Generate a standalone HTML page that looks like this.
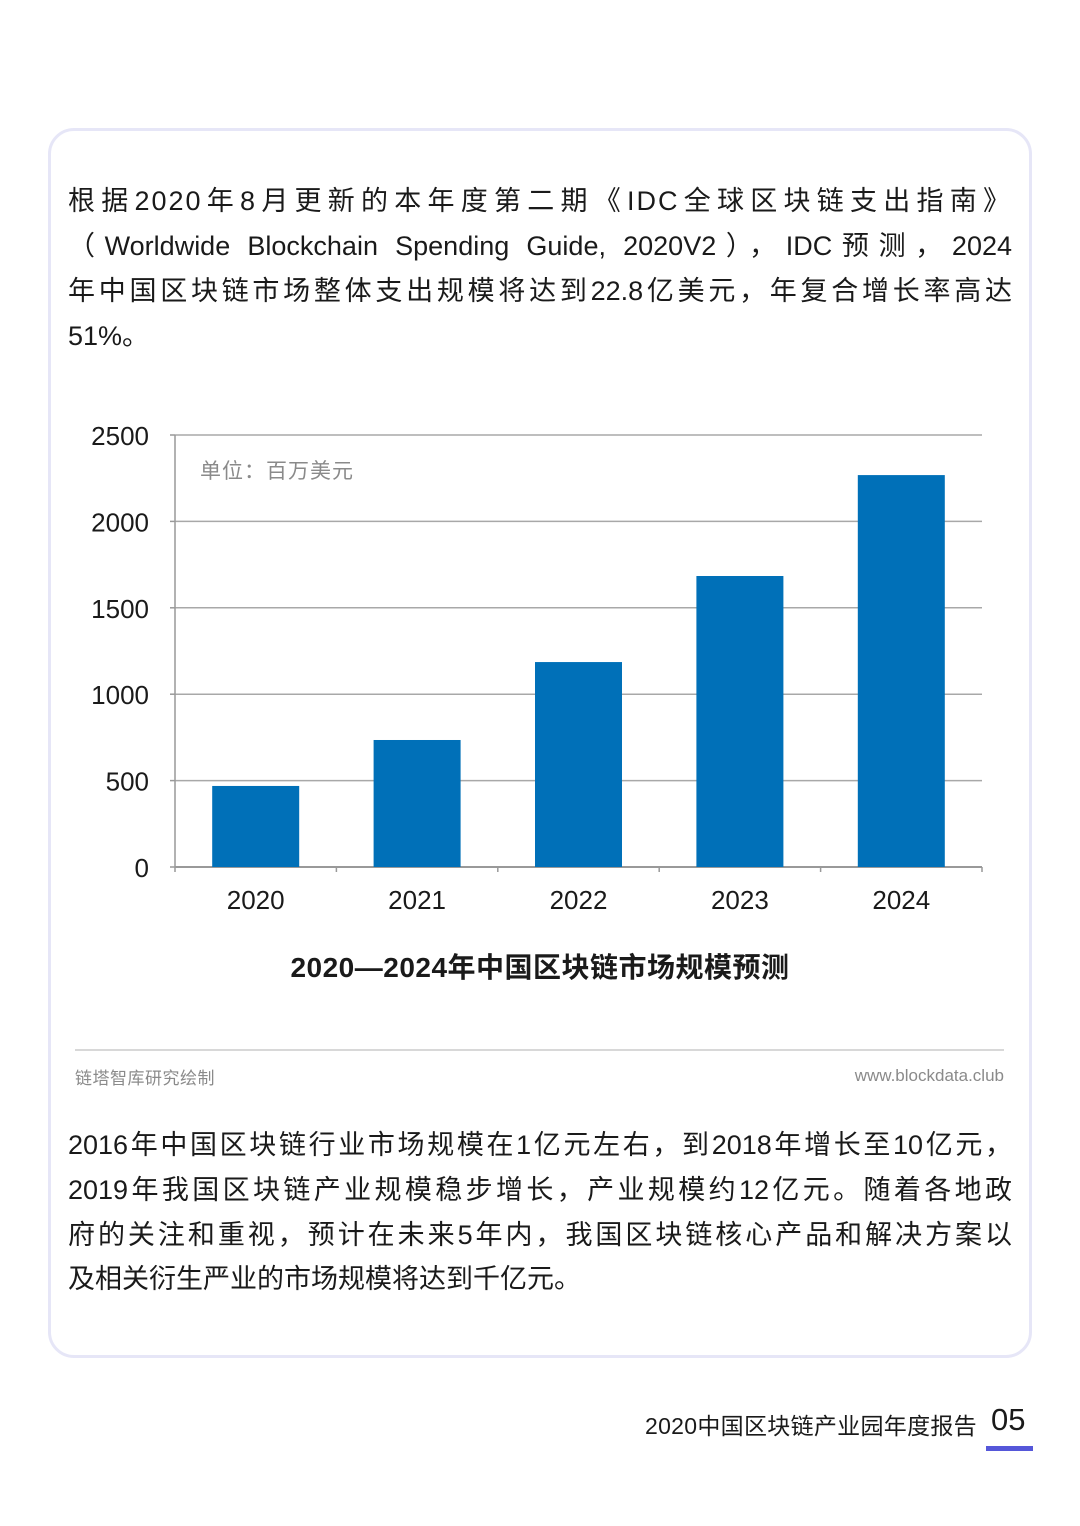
<!DOCTYPE html>
<html><head><meta charset="utf-8"><style>
body{margin:0;width:1080px;height:1526px;background:#fff;position:relative;font-family:"Liberation Sans","Noto Sans CJK SC",sans-serif;color:#1a1a1a;overflow:hidden}
.card{position:absolute;left:48px;top:128px;width:978px;height:1224px;border:3px solid #e6e6f7;border-radius:26px}
.ln{position:absolute;left:68px;width:944px;font-size:27px;line-height:34px;text-align:justify;text-align-last:justify;white-space:nowrap}
.ln.l{text-align-last:left}
</style></head><body>
<div class="card"></div>
<div>
<div class="ln" style="top:184px;letter-spacing:2px">根据2020年8月更新的本年度第二期《IDC全球区块链支出指南》</div>
<div class="ln" style="top:229px">（Worldwide Blockchain Spending Guide, 2020V2），IDC预测，2024</div>
<div class="ln" style="top:274px">年中国区块链市场整体支出规模将达到22.8亿美元，年复合增长率高达</div>
<div class="ln l" style="top:319px">51%。</div>
</div>
<svg id="chart" style="position:absolute;left:0;top:400px" width="1080" height="600"></svg>
<div style="position:absolute;left:75px;top:1049px;width:929px;height:2px;background:#d8d8d8"></div>
<div style="position:absolute;left:75px;top:1064px;font-size:17px;color:#8a8a8a;letter-spacing:0.5px">链塔智库研究绘制</div>
<div style="position:absolute;right:76px;top:1066px;font-size:17px;color:#8a8a8a">www.blockdata.club</div>
<div>
<div class="ln" style="top:1128px">2016年中国区块链行业市场规模在1亿元左右，到2018年增长至10亿元，</div>
<div class="ln" style="top:1173px">2019年我国区块链产业规模稳步增长，产业规模约12亿元。随着各地政</div>
<div class="ln" style="top:1218px">府的关注和重视，预计在未来5年内，我国区块链核心产品和解决方案以</div>
<div class="ln l" style="top:1262px">及相关衍生严业的市场规模将达到千亿元。</div>
</div>
<div style="position:absolute;left:645px;top:1407px;font-size:23px;letter-spacing:0.3px">2020中国区块链产业园年度报告</div>
<div style="position:absolute;left:991px;top:1402px;font-size:31px">05</div>
<div style="position:absolute;left:986px;top:1446px;width:47px;height:5px;background:#5557d9"></div>
<script>
const categories=["2020","2021","2022","2023","2024"];
const values=[469,735,1186,1684,2268];
const yTicks=[0,500,1000,1500,2000,2500];
const svg=document.getElementById('chart');
const NS='http://www.w3.org/2000/svg';
const x0=175,x1=982,yTop=35,yBot=467,yMax=2500;
const y=v=>yBot-(v/yMax)*(yBot-yTop);
const band=(x1-x0)/categories.length;
const xc=i=>x0+band*(i+0.5);
function mk(t,a){const e=document.createElementNS(NS,t);for(const k in a)e.setAttribute(k,a[k]);svg.appendChild(e);return e;}
yTicks.forEach(v=>{
 const g=mk('line',{x1:x0,x2:x1,y1:y(v),y2:y(v),stroke:v===0?'#999':'#a8a8a8','stroke-width':v===0?2:1.5});
 
 
 mk('line',{x1:x0-5,x2:x0,y1:y(v),y2:y(v),stroke:'#999','stroke-width':1.5});
 const t=mk('text',{x:149,y:y(v)+10,'text-anchor':'end','font-size':26,fill:'#1a1a1a'});
 t.textContent=v;
 
 
});
mk('line',{x1:x0,x2:x0,y1:yTop,y2:yBot,stroke:'#999','stroke-width':1.5});
for(let i=0;i<=categories.length;i++)mk('line',{x1:x0+band*i,x2:x0+band*i,y1:yBot,y2:yBot+5,stroke:'#999','stroke-width':1.5});
categories.forEach((c,i)=>{
 const r=mk('rect',{x:xc(i)-43.5,y:y(values[i]),width:87,height:yBot-y(values[i]),fill:'#0070b8'});
 
 
 const t=mk('text',{x:xc(i),y:509,'text-anchor':'middle','font-size':26,fill:'#1a1a1a'});
 t.textContent=c;
 
 
});
const u=mk('text',{x:200,y:78,'font-size':21,fill:'#8a8a8a','letter-spacing':1});
u.textContent='单位：百万美元';


const ti=mk('text',{x:540,y:577,'text-anchor':'middle','font-size':28,'font-weight':'bold',fill:'#1a1a1a','letter-spacing':0.5});
ti.textContent='2020—2024年中国区块链市场规模预测';


</script>
</body></html>
